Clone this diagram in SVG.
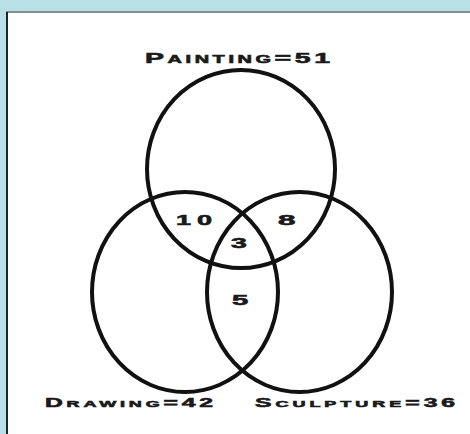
<svg xmlns="http://www.w3.org/2000/svg" width="470" height="434" viewBox="0 0 470 434">
<style>
.set{fill:none;stroke:#111;stroke-width:4}
.t{font-family:"Liberation Sans",Arial,sans-serif;font-weight:bold;fill:#1a1a1a;stroke:#1a1a1a;stroke-width:0.6}
.big{font-size:15px}
.sm{font-size:10.5px}
</style>
<rect x="0" y="0" width="470" height="434" fill="#b7e1e7"/>
<rect x="6" y="12" width="464" height="422" fill="#fff"/>
<line x1="6" y1="12" x2="470" y2="12" stroke="#8a8a8a" stroke-width="2"/>
<line x1="7" y1="12" x2="7" y2="434" stroke="#222" stroke-width="2"/>
<g id="painting">
<ellipse class="set" cx="241" cy="169" rx="94" ry="99"/>
<text class="t" transform="translate(145 63) scale(1.9 1)" textLength="97.4" lengthAdjust="spacing"><tspan class="big">P</tspan><tspan class="sm">AINTING</tspan><tspan class="big">=51</tspan></text>
</g>
<g id="drawing">
<ellipse class="set" cx="185" cy="292" rx="93" ry="100"/>
<text class="t" transform="translate(45 407) scale(1.9 1)" textLength="88.4" lengthAdjust="spacing"><tspan style="font-size:13px">D</tspan><tspan style="font-size:9.5px">RAWING</tspan><tspan style="font-size:13px">=42</tspan></text>
</g>
<g id="sculpture">
<ellipse class="set" cx="299.5" cy="292" rx="92.5" ry="100"/>
<text class="t" transform="translate(255 407) scale(1.9 1)" textLength="105.3" lengthAdjust="spacing"><tspan style="font-size:13px">S</tspan><tspan style="font-size:9.5px">CULPTURE</tspan><tspan style="font-size:13px">=36</tspan></text>
</g>
<g id="regions">
<text class="t big" transform="translate(176 225) scale(1.8 1)" textLength="20" lengthAdjust="spacing">10</text>
<text class="t big" transform="translate(278 225) scale(2.1 1)">8</text>
<text class="t big" transform="translate(231 248) scale(1.9 1)">3</text>
<text class="t big" transform="translate(232 305) scale(1.95 1)">5</text>
</g>
</svg>
